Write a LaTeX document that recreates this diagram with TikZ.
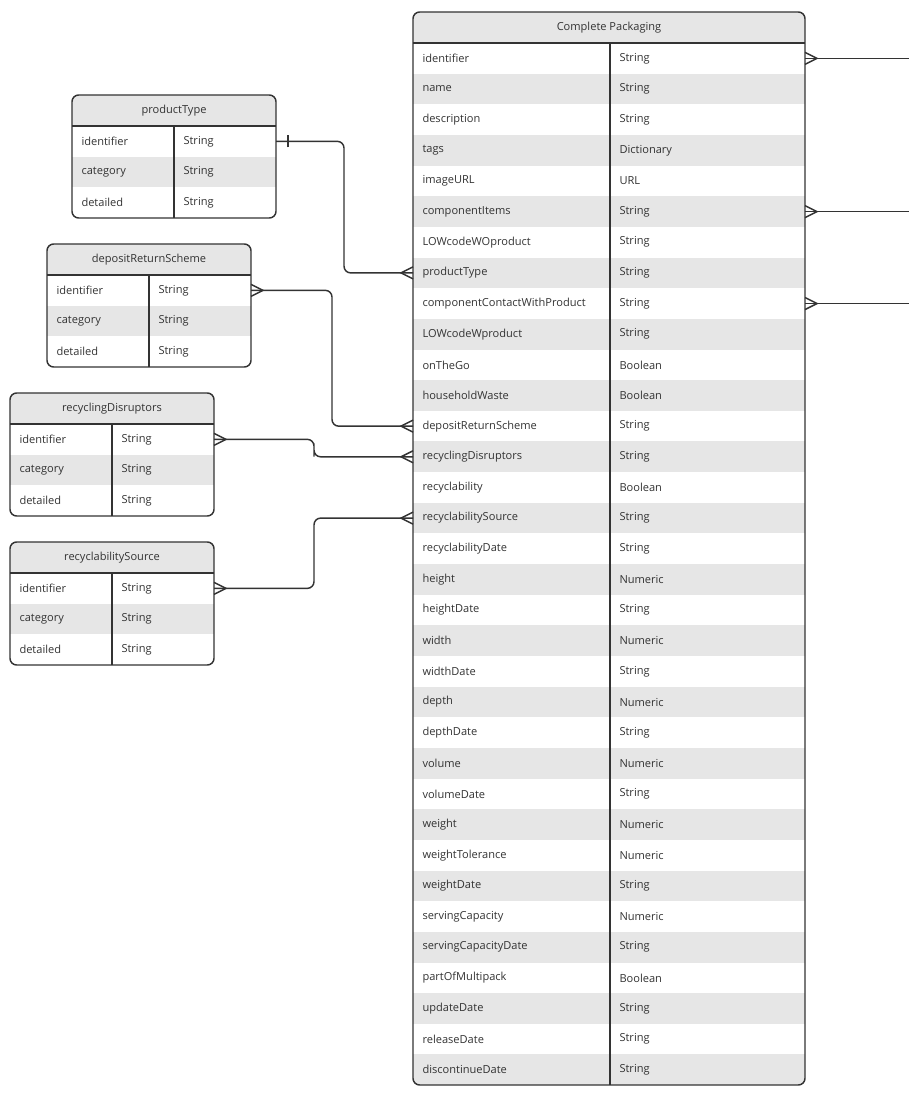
\documentclass[tikz,border=0pt]{standalone}
\usepackage{fontspec}
\setmainfont{Open Sans}
\definecolor{rowgrey}{RGB}{230,230,230}
\definecolor{edge}{RGB}{51,51,51}
\definecolor{txt}{RGB}{51,51,51}
\tikzset{every picture/.style={line width=0.75pt}}
\tikzset{
  lbl/.style={anchor=west,inner sep=0.75pt,text=txt,font=\fontsize{8.3}{10}\selectfont},
  ttl/.style={inner sep=0.75pt,text=txt,font=\fontsize{8.3}{10}\selectfont},
  tbl/.style={draw=edge,line width=1.1pt,rounded corners=5},
  link/.style={draw=edge,line width=1.1pt,rounded corners=5},
}
% crow's foot opening towards the table; #2 = +1 line leaves to the right, -1 to the left
\newcommand{\crowfoot}[2]{\draw[edge,line width=1.1pt] ([yshift=4.5pt]#1) -- ([xshift=#2*9pt]#1) -- ([yshift=-4.5pt]#1);}
% small lookup table: name, left, divider, right, top, title
\newcommand{\lookuptable}[6]{
  \begin{scope}
    \clip[rounded corners=5] (#2,#5) rectangle (#4,#5+123);
    \fill[rowgrey] (#2,#5) rectangle (#4,#5+31);
    \fill[rowgrey] (#2,#5+61.7) rectangle (#4,#5+92.4);
  \end{scope}
  \draw[tbl] (#2,#5) rectangle (#4,#5+123);
  \draw[edge,line width=1.1pt] (#2,#5+31) -- (#4,#5+31) (#3,#5+31) -- (#3,#5+123);
  \node[ttl] (#1-title) at ({(#2+#4)/2},#5+15.5) {#6};
  \foreach \f [count=\i] in {identifier,category,detailed} {
    \node[lbl] (#1-\i) at (#2+8,#5+31+\i*30.7-15.35) {\f};
    \node[lbl] (#1-\i-type) at (#3+8,#5+31+\i*30.7-15.35) {String};
    \coordinate (#1-\i-l) at (#2,#5+31+\i*30.7-15.35);
    \coordinate (#1-\i-r) at (#4,#5+31+\i*30.7-15.35);
  }
}

\begin{document}
\begin{tikzpicture}[x=0.75pt,y=0.75pt,yscale=-1]
\useasboundingbox (0,0) rectangle (909,1099);

%Complete Packaging table
\begin{scope}
  \clip[rounded corners=5] (413,12) rectangle (805,1085);
  \fill[rowgrey] (413,12) rectangle (805,43);
  \foreach \i in {2,4,...,34} {\fill[rowgrey] (413,43+\i*30.65-30.65) rectangle (805,43+\i*30.65);}
\end{scope}
\draw[tbl] (413,12) rectangle (805,1085);
\draw[edge,line width=1.1pt] (413,43) -- (805,43) (610,43) -- (610,1085);
\node[ttl] (cp-title) at (609,27.5) {Complete Packaging};
\foreach \f/\t [count=\i] in {identifier/String,name/String,description/String,tags/Dictionary,
  imageURL/URL,componentItems/String,LOWcodeWOproduct/String,productType/String,
  componentContactWithProduct/String,LOWcodeWproduct/String,onTheGo/Boolean,householdWaste/Boolean,
  depositReturnScheme/String,recyclingDisruptors/String,recyclability/Boolean,recyclabilitySource/String,
  recyclabilityDate/String,height/Numeric,heightDate/String,width/Numeric,widthDate/String,
  depth/Numeric,depthDate/String,volume/Numeric,volumeDate/String,weight/Numeric,
  weightTolerance/Numeric,weightDate/String,servingCapacity/Numeric,servingCapacityDate/String,
  partOfMultipack/Boolean,updateDate/String,releaseDate/String,discontinueDate/String} {
  \node[lbl] (cp-\i) at (421,43+\i*30.65-15.3) {\f};
  \node[lbl] (cp-\i-type) at (618,43+\i*30.65-15.3) {\t};
  \coordinate (cp-\i-l) at (413,43+\i*30.65-15.3);
  \coordinate (cp-\i-r) at (805,43+\i*30.65-15.3);
}

%lookup tables
\lookuptable{pt}{72}{174}{276}{95}{productType}
\lookuptable{drs}{47}{149}{251}{244}{depositReturnScheme}
\lookuptable{rd}{10}{112}{214}{393}{recyclingDisruptors}
\lookuptable{rs}{10}{112}{214}{542}{recyclabilitySource}

%outgoing links
\foreach \i in {1,6,9} {
  \coordinate (out-\i) at (909,43+\i*30.65-15.3);
  \draw[link] (cp-\i-r) -- (out-\i);
  \crowfoot{cp-\i-r}{1}
}

%lookup links
\draw[link] (pt-1-r) -| (344,200) |- (cp-8-l);
\draw[edge,line width=1.1pt] ([xshift=9pt,yshift=4.5pt]pt-1-r) -- ([xshift=9pt,yshift=-4.5pt]pt-1-r);
\crowfoot{cp-8-l}{-1}
\draw[link] (drs-1-r) -| (332,360) |- (cp-13-l);
\crowfoot{drs-1-r}{1}
\crowfoot{cp-13-l}{-1}
\draw[link] (rd-1-r) -| (314,450) |- (cp-14-l);
\crowfoot{rd-1-r}{1}
\crowfoot{cp-14-l}{-1}
\draw[link] (rs-1-r) -| (314,550) |- (cp-16-l);
\crowfoot{rs-1-r}{1}
\crowfoot{cp-16-l}{-1}

\end{tikzpicture}
\end{document}
